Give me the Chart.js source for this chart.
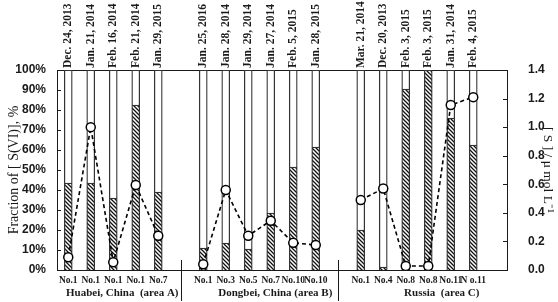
<!DOCTYPE html>
<html>
<head>
<meta charset="utf-8">
<script src="https://cdn.jsdelivr.net/npm/chart.js@4"></script>
<style>
  html, body { margin: 0; padding: 0; background: #fff; }
  canvas { display: block; }
</style>
</head>
<body>
<canvas id="chart" width="558" height="302"></canvas>
<script>
// sampling dates (top axis), one slot per bar, '' = spacer slot between areas
const dateLabels = [
  'Dec. 24, 2013', 'Jan. 21, 2014', 'Feb. 16, 2014', 'Feb. 21, 2014', 'Jan. 29, 2015', '',
  'Jan. 25, 2016', 'Jan. 28, 2014', 'Jan. 29, 2014', 'Jan. 27, 2014', 'Feb. 5, 2015', 'Jan. 28, 2015', '',
  'Mar. 21, 2014', 'Dec. 20, 2013', 'Feb. 3, 2015', 'Feb. 3, 2015', 'Jan. 31, 2014', 'Feb. 4, 2015', ''
];
const sampleLabels = [
  'No.1', 'No.1', 'No.1', 'No.1', 'No.7', '',
  'No.1', 'No.3', 'No.5', 'No.7', 'No.10', 'No.10', '',
  'No.1', 'No.4', 'No.8', 'No.8', 'No.11', 'N o.11', ''
];
const areaNames = ['Huabei, China  (area A)', 'Dongbei, China (area B)', 'Russia  (area C)'];

// fraction of S(VI), %
const sviFraction = [43.5, 43.5, 36, 82.5, 39, null, 11, 13.5, 10.5, 28.5, 51.5, 61.5, null, 20, 1.5, 90.5, 100, 76, 62.5, null];
// total [S], umol/L
const sTotal = [0.09, 1.0, 0.055, 0.595, 0.24, null, 0.04, 0.56, 0.24, 0.345, 0.19, 0.175, null, 0.49, 0.57, 0.028, 0.028, 1.155, 1.21, null];

const otherFraction = sviFraction.map(v => v == null ? null : 100 - v);

const canvas = document.getElementById('chart');
const ctx = canvas.getContext('2d');

// diagonal hatch for the S(VI) part
function makeHatch() {
  const c = document.createElement('canvas');
  c.width = 4; c.height = 4;
  const g = c.getContext('2d');
  g.fillStyle = '#fff';
  g.fillRect(0, 0, 4, 4);
  g.strokeStyle = '#111';
  g.lineWidth = 1.3;
  g.beginPath();
  g.moveTo(-1, -1); g.lineTo(5, 5);
  g.moveTo(-1, 3); g.lineTo(1, 5);
  g.moveTo(3, -1); g.lineTo(5, 1);
  g.stroke();
  return ctx.createPattern(c, 'repeat');
}

const serif = "'Liberation Serif', 'Times New Roman', serif";
const sans = "'Liberation Sans', Arial, sans-serif";
const ink = '#1a1a1a';

// inward ticks, rotated dates, area separators and area names
const extras = {
  id: 'extras',
  afterDraw(chart) {
    const { ctx, chartArea: a, scales } = chart;
    ctx.save();
    ctx.strokeStyle = ink;
    ctx.lineWidth = 1;
    scales.y.ticks.forEach(t => {
      const yy = Math.round(scales.y.getPixelForValue(t.value)) + 0.5;
      ctx.beginPath(); ctx.moveTo(a.left, yy); ctx.lineTo(a.left + 4, yy); ctx.stroke();
    });
    scales.y2.ticks.forEach(t => {
      const yy = Math.round(scales.y2.getPixelForValue(t.value)) + 0.5;
      ctx.beginPath(); ctx.moveTo(a.right - 4, yy); ctx.lineTo(a.right, yy); ctx.stroke();
    });
    [5, 12].forEach(i => {
      const xx = Math.round(scales.x.getPixelForValue(i)) + 0.5;
      ctx.beginPath(); ctx.moveTo(xx, a.bottom - 10); ctx.lineTo(xx, 301); ctx.stroke();
    });
    ctx.fillStyle = ink;

    // dates above the plot, reading upwards
    ctx.font = 'bold 11.5px ' + serif;
    ctx.textAlign = 'left';
    ctx.textBaseline = 'middle';
    dateLabels.forEach((d, i) => {
      if (!d) return;
      ctx.save();
      ctx.translate(scales.x.getPixelForValue(i), a.top - 2);
      ctx.rotate(-Math.PI / 2);
      ctx.fillText(d, 0, 0);
      ctx.restore();
    });

    ctx.font = 'bold 11px ' + serif;
    ctx.textAlign = 'center';
    [2.4, 9.2, 16.6].forEach((pos, i) => {
      ctx.fillText(areaNames[i], scales.x.getPixelForValue(pos), 293);
    });
    ctx.restore();
  }
};

new Chart(ctx, {
  type: 'bar',
  data: {
    labels: sampleLabels,
    datasets: [
      {
        type: 'line',
        label: '[S]',
        data: sTotal,
        yAxisID: 'y2',
        order: 0,
        borderColor: '#000',
        borderWidth: 1.6,
        borderDash: [4, 3],
        spanGaps: false,
        pointRadius: 4.5,
        pointBackgroundColor: '#fff',
        pointBorderColor: '#000',
        pointBorderWidth: 1.5,
        tension: 0,
      },
      {
        label: 'S(VI)',
        data: sviFraction,
        yAxisID: 'y',
        order: 1,
        backgroundColor: makeHatch(),
        borderColor: '#333',
        borderWidth: 1.3,
        barThickness: 8,
      },
      {
        label: 'other',
        data: otherFraction,
        yAxisID: 'y',
        order: 2,
        backgroundColor: '#fff',
        borderColor: '#333',
        borderWidth: 1.3,
        barThickness: 8,
      },
    ],
  },
  options: {
    responsive: false,
    animation: false,
    devicePixelRatio: 1,
    layout: { padding: 0 },
    plugins: {
      legend: { display: false },
      tooltip: { enabled: false },
    },
    scales: {
      x: {
        stacked: true,
        position: 'bottom',
        grid: { display: false },
        border: { display: true, color: ink, width: 1 },
        ticks: {
          color: ink,
          font: { family: serif, size: 9.5, weight: 'bold' },
          autoSkip: false,
          maxRotation: 0,
          padding: -3,
        },
        afterFit: s => { s.height = 32; },
      },
      x2: {
        type: 'category',
        labels: dateLabels,
        position: 'top',
        offset: true,
        grid: { display: false },
        border: { display: true, color: ink, width: 1 },
        ticks: { display: false },
        afterFit: s => { s.height = 70; },
      },
      y: {
        stacked: true,
        position: 'left',
        min: 0,
        max: 100,
        grid: { display: false },
        border: { display: true, color: ink, width: 1 },
        ticks: {
          stepSize: 10,
          color: ink,
          font: { family: sans, size: 12, weight: 'bold' },
          padding: 3,
          callback: v => v + '%',
        },
        title: {
          display: true,
          text: 'Fraction of [ S(VI)], %',
          color: ink,
          font: { family: serif, size: 14 },
          padding: { top: 6, bottom: 0 },
        },
        afterFit: s => { s.width = 57; },
      },
      y2: {
        position: 'right',
        min: 0,
        max: 1.4,
        grid: { display: false },
        border: { display: true, color: ink, width: 1 },
        ticks: {
          stepSize: 0.2,
          color: ink,
          font: { family: sans, size: 12, weight: 'bold' },
          padding: 13,
          callback: v => v.toFixed(1),
        },
        title: {
          display: true,
          text: '[ S ] / \u03bc mol L\u207b\u00b9',
          color: ink,
          font: { family: serif, size: 13.5 },
          padding: { top: 2, bottom: 0 },
        },
        afterFit: s => { s.width = 51; },
      },
    },
  },
  plugins: [extras],
});
</script>
</body>
</html>
